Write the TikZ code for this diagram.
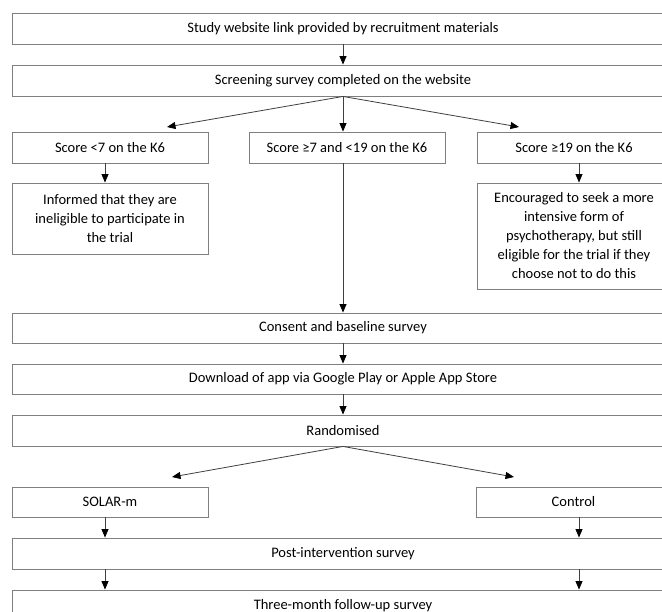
\documentclass[tikz,border=0pt]{standalone}
\usepackage{fontspec}
\setmainfont{Carlito}
\usetikzlibrary{arrows.meta}
\definecolor{boxgray}{HTML}{7F7F7F}
\definecolor{linegray}{HTML}{404040}
\tikzset{
  flowbox/.style={draw=boxgray, line width=0.9pt, rectangle, inner sep=0pt, align=center,
    font=\fontsize{14.5}{19}\selectfont, text=black},
  arr/.style={draw=linegray, line width=0.8pt, -{Triangle[width=7pt,length=8.5pt,color=black]}}
}
\begin{document}
\begin{tikzpicture}[x=1pt,y=-1pt]
\useasboundingbox (0,0) rectangle (662,612);
\clip (0,0) rectangle (662,612);
\fill[white] (0,0) rectangle (662,612);
% boxes: center, width, height
\node[flowbox, minimum width=662pt, minimum height=31pt] (b1) at (343,28.5) {Study website link provided by recruitment materials};
\node[flowbox, minimum width=662pt, minimum height=31pt] (b2) at (343,80.5) {Screening survey completed on the website};
\node[flowbox, minimum width=196pt, minimum height=31pt] (s1) at (110,147.5) {Score <7 on the K6};
\node[flowbox, minimum width=196pt, minimum height=31pt] (s2) at (347,147.5) {Score ≥7 and <19 on the K6};
\node[flowbox, minimum width=194pt, minimum height=31pt] (s3) at (574,147.5) {Score ≥19 on the K6};
\node[flowbox, minimum width=196pt, minimum height=71pt] (inf) at (110,218.5) {Informed that they are\\ineligible to participate in\\the trial};
\node[flowbox, minimum width=194pt, minimum height=106pt] (enc) at (574,236) {Encouraged to seek a more\\intensive form of\\psychotherapy, but still\\eligible for the trial if they\\choose not to do this};
\node[flowbox, minimum width=662pt, minimum height=30pt] (cons) at (343,328) {Consent and baseline survey};
\node[flowbox, minimum width=662pt, minimum height=30pt] (down) at (343,379) {Download of app via Google Play or Apple App Store};
\node[flowbox, minimum width=662pt, minimum height=31pt] (rand) at (343,430.5) {Randomised};
\node[flowbox, minimum width=196pt, minimum height=30pt] (solar) at (110,502) {SOLAR-m};
\node[flowbox, minimum width=195pt, minimum height=30pt] (ctrl) at (573.5,502) {Control};
\node[flowbox, minimum width=662pt, minimum height=31pt] (post) at (343,553.5) {Post-intervention survey};
\node[flowbox, minimum width=662pt, minimum height=31pt] (three) at (343,605.5) {Three-month follow-up survey};
% helper coordinates
\coordinate (mx) at (343,0);
\coordinate (lx) at (105,0);
\coordinate (rx) at (579,0);
\coordinate (tl) at (167,127);
\coordinate (tr) at (519,127);
\coordinate (ul) at (172,477);
\coordinate (ur) at (514,477);
% connectors
\draw[arr] (b1.south -| mx) -- (b2.north -| mx);
\draw[arr] (b2.south -| mx) -- (tl);
\draw[arr] (b2.south -| mx) -- (s2.north -| mx);
\draw[arr] (b2.south -| mx) -- (tr);
\draw[arr] (s1.south -| lx) -- (inf.north -| lx);
\draw[arr] (s3.south -| rx) -- (enc.north -| rx);
\draw[arr] (s2.south -| mx) -- (cons.north -| mx);
\draw[arr] (cons.south -| mx) -- (down.north -| mx);
\draw[arr] (down.south -| mx) -- (rand.north -| mx);
\draw[arr] (rand.south -| mx) -- (ul);
\draw[arr] (rand.south -| mx) -- (ur);
\draw[arr] (solar.south -| lx) -- (post.north -| lx);
\draw[arr] (ctrl.south -| rx) -- (post.north -| rx);
\draw[arr] (post.south -| lx) -- (three.north -| lx);
\draw[arr] (post.south -| rx) -- (three.north -| rx);
\end{tikzpicture}
\end{document}
